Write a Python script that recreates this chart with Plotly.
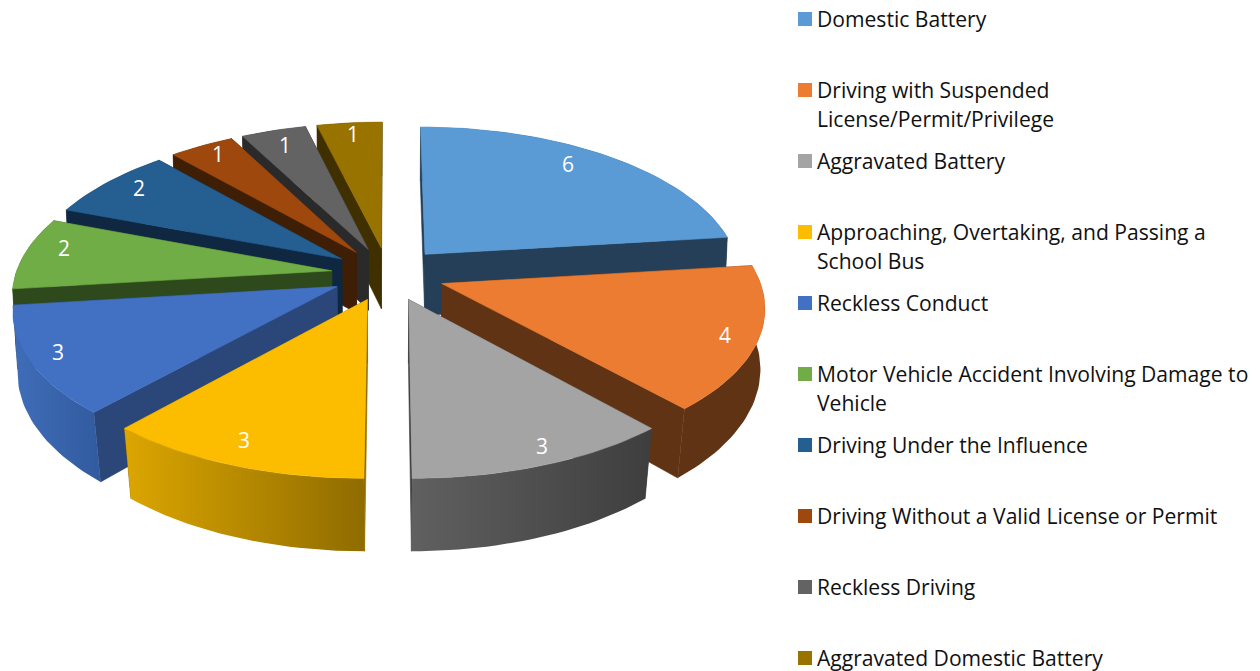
import math
import plotly.graph_objects as go

categories = ["Domestic Battery",
              "Driving with Suspended<br>License/Permit/Privilege",
              "Aggravated Battery",
              "Approaching, Overtaking, and Passing a<br>School Bus",
              "Reckless Conduct",
              "Motor Vehicle Accident Involving Damage to<br>Vehicle",
              "Driving Under the Influence",
              "Driving Without a Valid License or Permit",
              "Reckless Driving",
              "Aggravated Domestic Battery"]
values = [6, 4, 3, 3, 3, 2, 2, 1, 1, 1]

top_colors = ["#5B9BD5", "#EB7C31", "#A4A4A4", "#FCBD00", "#4271C3",
              "#70AD47", "#255E91", "#9E480E", "#636363", "#997300"]
wall_colors = ["#243F57", "#5F3314", "#404040", "#8F6C00", "#2B4779",
               "#2E4A1C", "#0F2740", "#3F1E06", "#2A2A2A", "#403000"]
outer_left = ["#243F57", "#5F3314", "#606060", "#DCA600", "#3F6DB8",
              "#2E4A1C", "#0F2740", "#3F1E06", "#2A2A2A", "#403000"]
outer_right = ["#243F57", "#5F3314", "#3E3E3E", "#8F6C00", "#325B9F",
               "#2E4A1C", "#0F2740", "#3F1E06", "#2A2A2A", "#403000"]

# projection of the tilted pie onto the page
CX, CY = 388, 274
RX, RY, PERSP, PERSP_X = 316, 148.5, 0.129, 0.14
EXPLODE = 0.18
DEPTH = 62
SHRINK_BASE, SHRINK_FRONT = 0.992, 0.018
LABEL_R = 0.87
label_nudge = [(-18, -4), (10, 3), (18, 5), (-7.5, -1), (-15, 1), (0, -8), (3, -4), (-2, -5), (0, 0), (0, -4)]

LEGEND_X = 815
LEGEND_Y0 = 19
LEGEND_STEP = 71
LINE_STEP = 29
TEXT_DY = -1
FONT = "Open Sans"


def project(u, v, bottom=False):
    s = 1 / (1 + PERSP * v)
    x = CX + RX * u / (1 + PERSP_X * v)
    y = CY - RY * v * s
    if bottom:
        x = CX + (x - CX) * (SHRINK_BASE + SHRINK_FRONT * min(v, 0))
        y = y + DEPTH * s
    return x, y


def rim(theta, mid, r=1.0, bottom=False):
    u = r * math.sin(theta) + EXPLODE * math.sin(mid)
    v = r * math.cos(theta) + EXPLODE * math.cos(mid)
    return project(u, v, bottom)


def poly(pts, color, gradient=None):
    xs = [p[0] for p in pts] + [pts[0][0]]
    ys = [p[1] for p in pts] + [pts[0][1]]
    kw = dict(x=xs, y=ys, mode="lines", fill="toself", hoverinfo="skip", showlegend=False)
    if gradient:
        kw["line"] = dict(width=0, color=gradient[0])
        kw["fillgradient"] = dict(type="horizontal", colorscale=[[0, gradient[0]], [1, gradient[1]]])
    else:
        kw["line"] = dict(width=0.6, color=color)
        kw["fillcolor"] = color
    return go.Scatter(**kw)


total = sum(values)
slices = []
acc = 0
for i, val in enumerate(values):
    a0 = 2 * math.pi * acc / total
    a1 = 2 * math.pi * (acc + val) / total
    acc += val
    slices.append((i, a0, a1, (a0 + a1) / 2))

fig = go.Figure()
for i, a0, a1, mid in sorted(slices, key=lambda s: -math.cos(s[3])):
    n = max(8, int((a1 - a0) * 40))
    angles = [a0 + (a1 - a0) * k / n for k in range(n + 1)]
    apex_t = project(EXPLODE * math.sin(mid), EXPLODE * math.cos(mid))
    apex_b = project(EXPLODE * math.sin(mid), EXPLODE * math.cos(mid), True)
    walls = sorted([a0, a1], key=lambda a: -math.cos(a))
    for a in walls:
        fig.add_trace(poly([apex_t, rim(a, mid), rim(a, mid, bottom=True), apex_b], wall_colors[i]))
    arc_t = [rim(a, mid) for a in angles]
    arc_b = [rim(a, mid, bottom=True) for a in angles]
    fig.add_trace(poly(arc_t + arc_b[::-1], outer_left[i], (outer_left[i], outer_right[i])))
    fig.add_trace(poly([apex_t] + arc_t, top_colors[i]))

for i, a0, a1, mid in slices:
    lx, ly = rim(mid, mid, LABEL_R)
    fig.add_annotation(x=lx + label_nudge[i][0], y=ly + label_nudge[i][1], text=str(values[i]),
                       showarrow=False, font=dict(family=FONT, size=21, color="white"))

for i, name in enumerate(categories):
    y = LEGEND_Y0 + i * LEGEND_STEP
    fig.add_trace(go.Scatter(x=[805], y=[y], mode="markers", hoverinfo="skip", showlegend=False,
                             marker=dict(symbol="square", size=14, color=top_colors[i], line=dict(width=0))))
    for j, line in enumerate(name.split("<br>")):
        fig.add_annotation(x=LEGEND_X, y=y + TEXT_DY + j * LINE_STEP, text=line, showarrow=False,
                           xanchor="left", yanchor="middle",
                           font=dict(family=FONT, size=21.1, color="#111111"))

fig.update_layout(width=1260, height=671, margin=dict(l=0, r=0, t=0, b=0),
                  paper_bgcolor="white", plot_bgcolor="white", showlegend=False,
                  xaxis=dict(range=[0, 1260], visible=False, fixedrange=True),
                  yaxis=dict(range=[671, 0], visible=False, fixedrange=True))
fig.write_html("out.html", config={"displayModeBar": False},
               post_script="document.body.style.margin='0';")
